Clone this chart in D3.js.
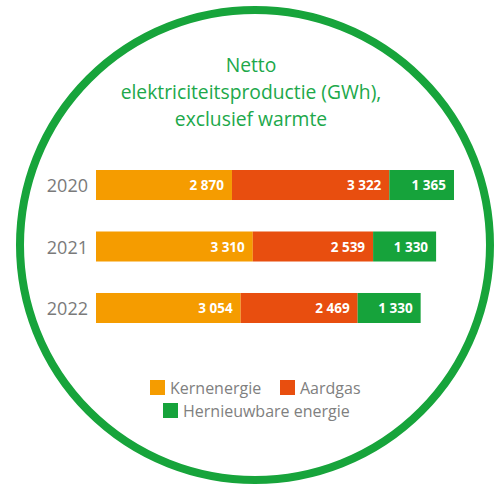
<!DOCTYPE html>
<html><head><meta charset="utf-8">
<script src="https://cdn.jsdelivr.net/npm/d3@7"></script>
<style>html,body{margin:0;padding:0;background:#fff;}svg{display:block;}</style>
</head><body>
<svg id="chart" width="495" height="486"></svg>
<script>
const years = ["2020", "2021", "2022"];
const seriesNames = ["Kernenergie", "Aardgas", "Hernieuwbare energie"];
const kernenergie = [2870, 3310, 3054];
const aardgas = [3322, 2539, 2469];
const hernieuwbaar = [1365, 1330, 1330];
const titleLines = ["Netto", "elektriciteitsproductie (GWh),", "exclusief warmte"];

const colors = ["#f59c00", "#e84e0f", "#16a33b"];
const font = "'Open Sans', 'DejaVu Sans', sans-serif";

const svg = d3.select("#chart");

// circle frame
svg.append("circle").attr("cx", 255).attr("cy", 245).attr("r", 235)
  .attr("fill", "none").attr("stroke", "#17a43b").attr("stroke-width", 8);

// title
svg.append("g").selectAll("text").data(titleLines).join("text")
  .attr("x", 251).attr("y", (d, i) => 72 + i * 27)
  .attr("text-anchor", "middle").attr("font-family", font).attr("font-size", 19.3)
  .attr("fill", "#20a84a").text(d => d);

const table = years.map((y, i) => ({ year: y, Kernenergie: kernenergie[i], Aardgas: aardgas[i], "Hernieuwbare energie": hernieuwbaar[i] }));
const stack = d3.stack().keys(seriesNames)(table);

const totalMax = d3.max(table, d => d.Kernenergie + d.Aardgas + d["Hernieuwbare energie"]);
const x = d3.scaleLinear().domain([0, totalMax]).range([96, 454]);
const y = d3.scaleBand().domain(years).range([170, 323]).paddingInner(0.512).paddingOuter(0);

const fmt = v => d3.format(",")(v).replace(/,/g, " ");

const g = svg.append("g");
stack.forEach((s, si) => {
  const grp = g.append("g");
  grp.selectAll("rect").data(s).join("rect")
    .attr("x", d => x(d[0])).attr("width", d => x(d[1]) - x(d[0]))
    .attr("y", d => y(d.data.year)).attr("height", y.bandwidth())
    .attr("fill", colors[si]);
  grp.selectAll("text").data(s).join("text")
    .attr("x", d => x(d[1]) - 8).attr("y", d => y(d.data.year) + y.bandwidth() / 2 + 5)
    .attr("text-anchor", "end").attr("font-family", font).attr("font-weight", 700)
    .attr("font-size", 13.5).attr("fill", "#fff")
    .text(d => fmt(d[1] - d[0]));
});

// year labels
const yAxis = d3.axisLeft(y).tickSize(0).tickPadding(8);
const ya = svg.append("g").attr("transform", "translate(96,0)").call(yAxis);
ya.select(".domain").remove();
ya.selectAll("text").attr("font-family", font).attr("font-size", 18).attr("fill", "#7a7a7a")
  .attr("dy", "0.4em");

// legend
const legendItems = [
  { name: seriesNames[0], c: colors[0], x: 150, y: 380 },
  { name: seriesNames[1], c: colors[1], x: 280, y: 380 },
  { name: seriesNames[2], c: colors[2], x: 163, y: 403 }
];
const lg = svg.append("g").selectAll("g").data(legendItems).join("g")
  .attr("transform", d => `translate(${d.x},${d.y})`);
lg.append("rect").attr("width", 15).attr("height", 15).attr("fill", d => d.c);
lg.append("text").attr("x", 20).attr("y", 14).attr("font-family", font).attr("font-size", 16)
  .attr("fill", "#808080").text(d => d.name);
</script>
</body></html>
